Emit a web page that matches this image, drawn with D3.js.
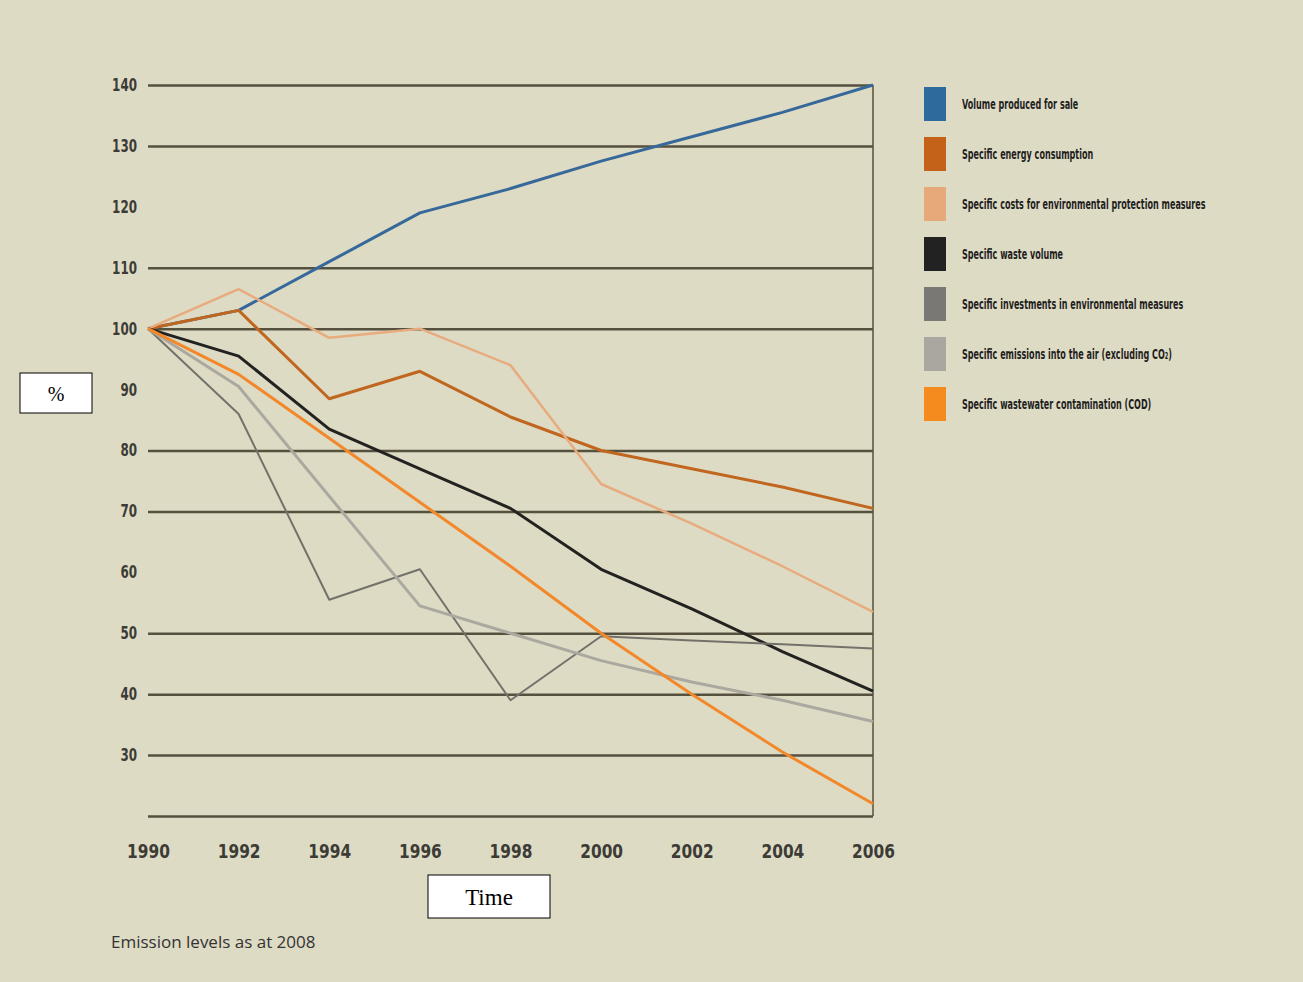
<!DOCTYPE html>
<html lang="en">
<head>
    <meta charset="UTF-8">
    <title>Emission levels as at 2008</title>
    <script src="https://d3js.org/d3.v7.min.js"></script>
    <style>
        body { margin: 0; background: #dedbc5; }
        svg { display: block; }
        .tick text { font-family: "DejaVu Sans Condensed", "DejaVu Sans", sans-serif; font-stretch: condensed; font-weight: bold; fill: #3c3b36; }
        .legend text { font-family: "DejaVu Sans Condensed", "DejaVu Sans", sans-serif; font-stretch: condensed; font-weight: bold; font-size: 14px; fill: #1e1e1c; }
        .note { font-family: "Open Sans", sans-serif; font-size: 17px; fill: #333; }
        .boxlabel { font-family: "Liberation Serif", "Times New Roman", serif; fill: #000; }
    </style>
</head>
<body>
<svg id="chart" width="1303" height="982"></svg>
<script>
    const years = [1990, 1992, 1994, 1996, 1998, 2000, 2002, 2004, 2006];

    const volumeSale      = [100, 103, 111, 119, 123, 127.5, 131.5, 135.5, 140];
    const energyUse       = [100, 103, 88.5, 93, 85.5, 80, 77, 74, 70.5];
    const protectionCosts = [100, 106.5, 98.5, 100, 94, 74.5, 68, 61, 53.5];
    const wasteVolume     = [100, 95.5, 83.5, 77, 70.5, 60.5, 54, 47, 40.5];
    const investments     = [100, 86, 55.5, 60.5, 39, 49.5, 48.8, 48.2, 47.5];
    const airEmissions    = [100, 90.5, 72.5, 54.5, 50, 45.5, 42, 39, 35.5];
    const wastewaterCOD   = [100, 92.5, 82, 71.5, 61, 50, 40, 30.5, 22];

    const legendLabels = [
        "Volume produced for sale",
        "Specific energy consumption",
        "Specific costs for environmental protection measures",
        "Specific waste volume",
        "Specific investments in environmental measures",
        "Specific emissions into the air (excluding CO\u2082)",
        "Specific wastewater contamination (COD)"
    ];

    const yTickLabels = [30, 40, 50, 60, 70, 80, 90, 100, 110, 120, 130, 140];
    const gridValues = [20, 30, 40, 50, 70, 80, 100, 110, 130, 140];

    const series = [
        { name: legendLabels[0], values: volumeSale,      color: "#36699a", swatch: "#2f6a9c", w: 3 },
        { name: legendLabels[1], values: energyUse,       color: "#c0661f", swatch: "#c4621a", w: 3 },
        { name: legendLabels[2], values: protectionCosts, color: "#e8ab7e", swatch: "#e8a97a", w: 2.5 },
        { name: legendLabels[3], values: wasteVolume,     color: "#222220", swatch: "#222222", w: 3 },
        { name: legendLabels[4], values: investments,     color: "#74716a", swatch: "#7a7874", w: 2 },
        { name: legendLabels[5], values: airEmissions,    color: "#aba89f", swatch: "#aaa7a0", w: 3 },
        { name: legendLabels[6], values: wastewaterCOD,   color: "#f2882a", swatch: "#f58a1f", w: 3 }
    ];

    const margin = { left: 148, right: 430, top: 85, bottom: 166 };
    const width = 1303, height = 982;
    const svg = d3.select("#chart");

    svg.append("rect").attr("width", width).attr("height", height).attr("fill", "#dedbc5");

    const x = d3.scaleLinear().domain([1990, 2006]).range([margin.left, width - margin.right]);
    const y = d3.scaleLinear().domain([20, 140]).range([height - margin.bottom, margin.top]);

    // gridlines
    const grid = svg.append("g")
        .attr("transform", `translate(${margin.left},0)`)
        .call(d3.axisLeft(y).tickValues(gridValues).tickSize(-(x(2006) - x(1990))).tickFormat(""));
    grid.select(".domain").remove();
    grid.selectAll("line").attr("stroke", "#55513e").attr("stroke-width", 2.5);

    // right border
    svg.append("line")
        .attr("x1", x(2006)).attr("x2", x(2006))
        .attr("y1", y(140)).attr("y2", y(20))
        .attr("stroke", "#55513e").attr("stroke-width", 1.5);

    // y labels
    const yAxis = svg.append("g")
        .attr("transform", `translate(${margin.left - 11},0)`)
        .call(d3.axisLeft(y).tickValues(yTickLabels).tickSize(0).tickPadding(0));
    yAxis.select(".domain").remove();
    yAxis.selectAll("text")
        .style("font-size", "17px")
        .attr("x", null)
        .attr("transform", "scale(0.78,1)");

    // x labels
    const xAxis = svg.append("g")
        .attr("transform", `translate(0,${y(20) + 28})`)
        .call(d3.axisBottom(x).tickValues(years).tickFormat(d3.format("d")).tickSize(0).tickPadding(0));
    xAxis.select(".domain").remove();
    xAxis.selectAll("text")
        .style("font-size", "19px")
        .attr("transform", "scale(0.9,1)");

    const line = d3.line().x((d, i) => x(years[i])).y(d => y(d));

    svg.selectAll(".series")
        .data(series)
        .enter()
        .append("path")
        .attr("class", "series")
        .attr("d", d => line(d.values))
        .attr("fill", "none")
        .attr("stroke", d => d.color)
        .attr("stroke-width", d => d.w)
        .attr("stroke-linejoin", "round");

    // legend
    const legend = svg.append("g").attr("class", "legend").attr("transform", "translate(924,87)");
    const items = legend.selectAll("g")
        .data(series)
        .enter()
        .append("g")
        .attr("transform", (d, i) => `translate(0,${i * 50})`);
    items.append("rect").attr("width", 22).attr("height", 34).attr("fill", d => d.swatch);
    items.append("text")
        .attr("transform", "translate(38,22) scale(0.64,1)")
        .text(d => d.name);

    // footnote
    svg.append("text").attr("class", "note").attr("x", 111).attr("y", 948)
        .text("Emission levels as at 2008");

    // annotation boxes
    svg.append("rect").attr("x", 20).attr("y", 373).attr("width", 72).attr("height", 40)
        .attr("fill", "#fff").attr("stroke", "#000").attr("stroke-width", 1);
    svg.append("text").attr("class", "boxlabel").attr("x", 56).attr("y", 401)
        .attr("text-anchor", "middle").style("font-size", "20px").text("%");

    svg.append("rect").attr("x", 428).attr("y", 875).attr("width", 122).attr("height", 43)
        .attr("fill", "#fff").attr("stroke", "#000").attr("stroke-width", 1);
    svg.append("text").attr("class", "boxlabel").attr("x", 489).attr("y", 905)
        .attr("text-anchor", "middle").style("font-size", "23px").text("Time");
</script>
</body>
</html>
